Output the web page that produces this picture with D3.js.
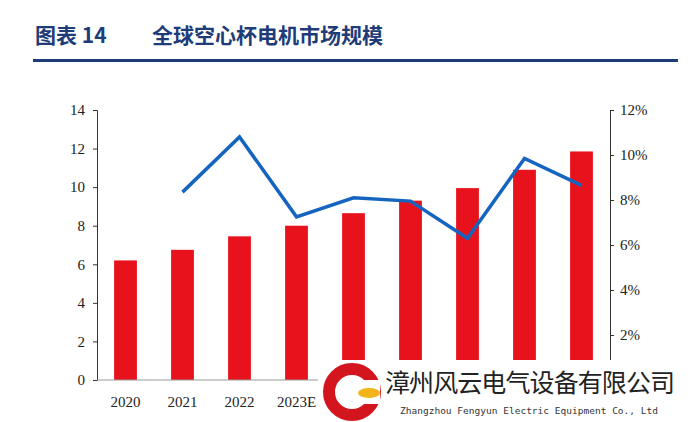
<!DOCTYPE html>
<html><head><meta charset="utf-8">
<script src="https://cdn.jsdelivr.net/npm/d3@7"></script>
<style>body{margin:0;background:#fff}</style></head>
<body><svg id="c" width="695" height="422"></svg>
<script>
const categories=["2020","2021","2022","2023E","2024E","2025E","2026E","2027E","2028E"];
const marketSize=[6.2,6.75,7.45,8.0,8.65,9.3,9.95,10.9,11.85];
const growth=[null,8.35,10.8,7.25,8.1,7.95,6.3,9.85,8.65];
const leftTicks=[0,2,4,6,8,10,12,14];
const rightTicks=[0,2,4,6,8,10,12];

const svg=d3.select("#c");
const tg=svg.append("text").attr("x",35).attr("y",43).attr("fill","#1e3c78")
 .attr("font-family","Noto Sans CJK SC").attr("font-weight","bold").attr("font-size",21);
tg.append("tspan").text("图表 14");
tg.append("tspan").attr("x",152).text("全球空心杯电机市场规模");
svg.append("rect").attr("x",33).attr("y",59).attr("width",645).attr("height",3).attr("fill","#1e3c78");

const x=d3.scaleBand().domain(categories).range([97,610]).paddingInner(0.6).paddingOuter(0.3);
const yL=d3.scaleLinear().domain([0,14]).range([380,110]);
const yR=d3.scaleLinear().domain([0,12]).range([380,110]);
const font="Liberation Serif";

const gl=svg.append("g").attr("transform","translate(97,0)")
 .call(d3.axisLeft(yL).tickValues(leftTicks).tickSize(4).tickPadding(8));
const gr=svg.append("g").attr("transform","translate(610,0)")
 .call(d3.axisRight(yR).tickValues(rightTicks).tickSize(4).tickPadding(6).tickFormat(d=>d===0?"":d+"%"));
[gl,gr].forEach(g=>{g.selectAll("path,line").attr("stroke","#333");
 g.selectAll("text").attr("font-family",font).attr("font-size",15).attr("fill","#222");});

svg.selectAll(".bar").data(categories).join("rect")
 .attr("x",d=>x(d)).attr("width",x.bandwidth())
 .attr("y",(d,i)=>yL(marketSize[i])).attr("height",(d,i)=>380-yL(marketSize[i]))
 .attr("fill","#e8121c");
svg.append("line").attr("x1",97).attr("x2",610).attr("y1",380).attr("y2",380).attr("stroke","#999");
svg.selectAll(".xl").data(categories.filter(d=>x(d)<320)).join("text")
 .attr("x",d=>x(d)+x.bandwidth()/2).attr("y",407).attr("text-anchor","middle")
 .attr("font-family",font).attr("font-size",15).attr("fill","#222").text(d=>d);

const pts=categories.map((c,i)=>[c,growth[i]]).filter(p=>p[1]!==null);
svg.append("path").datum(pts)
 .attr("d",d3.line().x(p=>x(p[0])+x.bandwidth()/2).y(p=>yR(p[1])))
 .attr("fill","none").attr("stroke","#1565c0").attr("stroke-width",3.5);

// watermark
const w=svg.append("g");
w.append("rect").attr("x",318).attr("y",360).attr("width",377).attr("height",62).attr("fill","#fff");
w.append("circle").attr("cx",352).attr("cy",392).attr("r",23).attr("fill","none").attr("stroke","#d3161e").attr("stroke-width",12);
w.append("rect").attr("x",360).attr("y",380).attr("width",20).attr("height",24).attr("fill","#fff");
w.append("ellipse").attr("cx",369).attr("cy",393).attr("rx",11).attr("ry",5).attr("fill","#f2b418");
w.append("text").attr("x",385).attr("y",392).attr("font-family","Noto Sans CJK SC").attr("font-size",25).attr("fill","#222").attr("textLength",290).text("漳州风云电气设备有限公司");
w.append("text").attr("x",400).attr("y",414).attr("font-family","DejaVu Sans Mono").attr("font-size",9.5).attr("fill","#333").attr("textLength",258).text("Zhangzhou Fengyun Electric Equipment Co., Ltd");
</script></body></html>
